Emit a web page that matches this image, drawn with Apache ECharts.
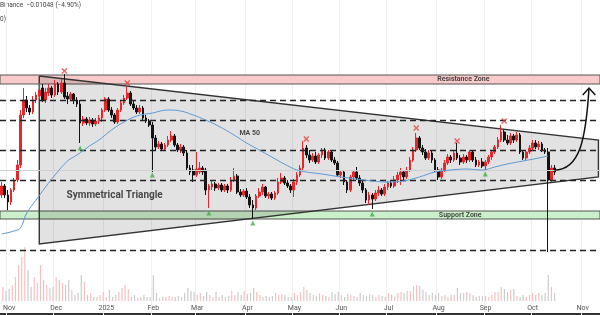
<!DOCTYPE html>
<html><head><meta charset="utf-8">
<script src="https://cdn.jsdelivr.net/npm/echarts@6/dist/echarts.min.js"></script>
<style>html,body{margin:0;padding:0;background:#fff}#c{width:600px;height:315px}</style>
</head><body><div id="c"></div>
<script>
// ---- data ----
const opens = [0.205,0.214,0.205,0.198,0.210,0.220,0.235,0.285,0.300,0.292,
0.288,0.300,0.304,0.312,0.300,0.307,0.312,0.305,0.316,0.308,
0.317,0.304,0.301,0.306,0.300,0.296,0.277,0.281,0.277,0.280,
0.276,0.279,0.282,0.290,0.301,0.290,0.285,0.278,0.290,0.297,
0.302,0.307,0.296,0.292,0.288,0.292,0.282,0.279,0.275,0.262,
0.253,0.256,0.251,0.255,0.260,0.264,0.255,0.250,0.253,0.247,
0.232,0.230,0.225,0.228,0.232,0.230,0.210,0.213,0.216,0.212,
0.215,0.210,0.214,0.210,0.220,0.224,0.208,0.205,0.209,0.203,
0.195,0.192,0.204,0.208,0.213,0.204,0.206,0.202,0.207,0.218,
0.222,0.217,0.214,0.210,0.218,0.225,0.232,0.252,0.245,0.240,
0.244,0.238,0.245,0.250,0.242,0.248,0.240,0.237,0.225,0.228,
0.218,0.210,0.223,0.228,0.222,0.217,0.210,0.200,0.205,0.201,
0.207,0.210,0.206,0.213,0.217,0.214,0.220,0.225,0.228,0.223,
0.230,0.240,0.250,0.262,0.252,0.248,0.242,0.247,0.240,0.230,
0.223,0.230,0.237,0.243,0.240,0.247,0.242,0.238,0.243,0.240,
0.248,0.240,0.235,0.238,0.234,0.238,0.243,0.248,0.253,0.260,
0.268,0.260,0.257,0.264,0.260,0.265,0.248,0.242,0.248,0.252,
0.257,0.253,0.256,0.250,0.248,0.220,0.232];
const closes = [0.214,0.205,0.198,0.210,0.220,0.235,0.285,0.300,0.292,0.288,
0.300,0.305,0.310,0.300,0.308,0.312,0.305,0.316,0.308,0.317,
0.303,0.301,0.306,0.300,0.296,0.277,0.281,0.277,0.280,0.276,
0.279,0.282,0.290,0.301,0.290,0.285,0.278,0.290,0.297,0.302,
0.307,0.296,0.292,0.288,0.292,0.282,0.279,0.275,0.262,0.253,
0.256,0.251,0.255,0.260,0.264,0.255,0.250,0.253,0.247,0.232,
0.228,0.225,0.231,0.232,0.228,0.210,0.214,0.216,0.212,0.215,
0.210,0.214,0.210,0.220,0.224,0.208,0.205,0.209,0.203,0.195,
0.192,0.204,0.208,0.213,0.204,0.206,0.202,0.207,0.218,0.222,
0.217,0.214,0.210,0.218,0.225,0.232,0.252,0.245,0.240,0.244,
0.238,0.245,0.250,0.242,0.248,0.240,0.237,0.225,0.228,0.218,
0.210,0.223,0.228,0.222,0.217,0.210,0.200,0.205,0.201,0.207,
0.210,0.206,0.213,0.217,0.214,0.220,0.225,0.228,0.223,0.230,
0.240,0.250,0.262,0.252,0.248,0.242,0.247,0.240,0.230,0.223,
0.230,0.237,0.243,0.240,0.247,0.242,0.238,0.243,0.240,0.248,
0.240,0.235,0.238,0.234,0.238,0.243,0.248,0.253,0.260,0.268,
0.260,0.257,0.264,0.260,0.265,0.248,0.242,0.248,0.252,0.257,
0.253,0.256,0.250,0.248,0.220,0.232,0.228];
const lows = [0.202,0.202,0.190,0.195,0.208,0.218,0.232,0.282,0.288,0.285,
0.286,0.297,0.301,0.298,0.297,0.304,0.302,0.303,0.305,0.306,
0.301,0.296,0.300,0.296,0.293,0.257,0.274,0.275,0.274,0.273,
0.274,0.276,0.278,0.288,0.288,0.282,0.276,0.276,0.288,0.295,
0.300,0.294,0.290,0.286,0.286,0.280,0.277,0.273,0.228,0.250,
0.251,0.249,0.249,0.253,0.258,0.253,0.248,0.247,0.244,0.230,
0.225,0.218,0.223,0.226,0.225,0.205,0.192,0.210,0.209,0.210,
0.208,0.208,0.207,0.208,0.218,0.206,0.203,0.203,0.201,0.192,
0.181,0.190,0.202,0.205,0.202,0.201,0.200,0.200,0.205,0.216,
0.215,0.212,0.207,0.203,0.215,0.223,0.230,0.242,0.237,0.238,
0.236,0.236,0.242,0.240,0.240,0.238,0.235,0.223,0.222,0.215,
0.207,0.208,0.220,0.220,0.214,0.207,0.197,0.195,0.191,0.199,
0.204,0.204,0.204,0.210,0.212,0.212,0.217,0.215,0.220,0.221,
0.228,0.238,0.248,0.250,0.245,0.240,0.240,0.237,0.228,0.220,
0.221,0.228,0.235,0.237,0.238,0.240,0.235,0.236,0.237,0.238,
0.238,0.233,0.233,0.232,0.230,0.236,0.240,0.246,0.251,0.258,
0.258,0.255,0.255,0.257,0.258,0.246,0.240,0.239,0.246,0.250,
0.251,0.250,0.248,0.246,0.148,0.218,0.225];
const highs = [0.218,0.216,0.210,0.212,0.222,0.240,0.290,0.312,0.304,0.295,
0.304,0.308,0.317,0.316,0.312,0.316,0.314,0.320,0.318,0.321,
0.326,0.308,0.308,0.307,0.303,0.300,0.284,0.283,0.283,0.282,
0.282,0.285,0.292,0.303,0.303,0.293,0.287,0.292,0.300,0.305,
0.313,0.309,0.299,0.295,0.295,0.294,0.285,0.281,0.278,0.265,
0.259,0.258,0.257,0.264,0.269,0.266,0.257,0.256,0.255,0.250,
0.235,0.235,0.248,0.238,0.234,0.232,0.216,0.219,0.218,0.217,
0.217,0.216,0.216,0.223,0.232,0.226,0.211,0.211,0.212,0.206,
0.200,0.206,0.212,0.216,0.214,0.208,0.208,0.209,0.222,0.227,
0.224,0.220,0.216,0.221,0.228,0.235,0.259,0.255,0.250,0.247,
0.248,0.247,0.252,0.252,0.250,0.250,0.243,0.239,0.230,0.230,
0.220,0.225,0.230,0.233,0.225,0.220,0.212,0.208,0.207,0.210,
0.214,0.212,0.216,0.219,0.220,0.224,0.228,0.232,0.230,0.233,
0.243,0.253,0.267,0.264,0.255,0.251,0.250,0.249,0.242,0.233,
0.232,0.240,0.246,0.245,0.250,0.257,0.245,0.246,0.245,0.250,
0.250,0.243,0.240,0.242,0.240,0.245,0.250,0.255,0.263,0.275,
0.270,0.265,0.267,0.266,0.268,0.267,0.250,0.250,0.255,0.260,
0.260,0.259,0.258,0.252,0.252,0.235,0.235];
const volumes = [14,10,12,16,24,36,44,54,31,14,24,18,36,21,16,13,14,24,21,18,
16,21,11,6,8,26,19,6,8,4,4,6,9,4,11,4,6,9,13,16,12,4,6,3,4,6,4,4,26,8,
3,4,4,5,4,4,5,4,8,13,10,9,6,8,
5,9,6,4,9,4,6,4,5,10,6,9,6,10,7,8,13,9,6,4,5,4,5,8,6,7,6,4,4,8,
6,9,14,11,8,6,5,8,6,5,4,9,7,9,6,4,7,6,5,4,8,6,5,7,6,4,6,5,4,8,6,4,8,
9,8,10,10,15,16,15,11,9,6,8,6,8,5,6,4,6,6,13,8,8,9,8,6,4,5,5,5,4,6,
9,9,14,12,9,11,12,5,4,6,4,6,8,6,8,6,8,26,14,8];
// MA 50: [candle index, value]
const maPoints = [[0,0.166],[4,0.169],[6,0.172],[8,0.187],[11,0.200],[14,0.213],[17,0.225],
[21,0.239],[24,0.245],[28,0.254],[31,0.260],[35,0.270],[39,0.278],[43,0.284],[48,0.287],
[53,0.290],[57,0.289],[61,0.285],[65,0.280],[69,0.274],[74,0.265],[78,0.257],[82,0.250],
[86,0.243],[90,0.236],[94,0.230],[97,0.228],[102,0.226],[108,0.223],[113,0.221],[118,0.219],
[123,0.218],[128,0.219],[133,0.223],[138,0.228],[143,0.230],[148,0.231],[153,0.230],
[157,0.233],[161,0.236],[166,0.239],[171,0.242],[174,0.244]];
const levelLines = [0.296,0.276,0.252,0.222,0.150];
const gridLevel = 0.230;
const resistanceZone = [0.316,0.325];
const supportZone = [0.181,0.189];
const triangle = [[12,0.324],[190,0.260],[190,0.223],[12,0.156]];
const swingHighs = [[20,0.329],[40,0.317],[97,0.261],[132,0.272],[145,0.259],[160,0.279]];
const swingLows = [[25,0.252],[48,0.225],[66,0.187],[80,0.177],[118,0.186],[154,0.226]];
const arrowCurve = [[176,0.230],[184,0.230],[186,0.260],[187,0.312]];
const arrowHead = [[185,0.305],[187,0.312],[189,0.305]];
const textLabels = [
  {name:'Resistance Zone', at:[147,0.3205], size:7},
  {name:'Support Zone', at:[146,0.185], size:7},
  {name:'MA 50', at:[79,0.267], size:7},
  {name:'Symmetrical Triangle', at:[36,0.205], size:10}
];
const monthNames = ['Jan','Feb','Mar','Apr','May','Jun','Jul','Aug','Sep','Oct','Nov','Dec'];
const categories = [];
(function(){ const s = Date.UTC(2024,9,28); for (let i=0;i<191;i++){ categories.push(new Date(s+i*2*86400000).toISOString().slice(0,10)); } })();

// ---- build ----
const candleData = opens.map((o,i)=>[o, closes[i], lows[i], highs[i]]);
const volData = volumes.map((v,i)=>({value:v, itemStyle:{color: closes[i]>=opens[i] ? '#f6c0c1' : '#cbcbcb'}}));
function isMonthStart(i){ return i>0 && categories[i].slice(5,7)!==categories[i-1].slice(5,7); }
function fmtMonth(v){ const m = +v.slice(5,7); return m===1 ? v.slice(0,4) : monthNames[m-1]; }

const chart = echarts.init(document.getElementById('c'));
chart.setOption({
  animation:false,
  backgroundColor:'#ffffff',
  grid:[{left:0,right:0,top:0,bottom:0},{left:0,right:0,top:215,bottom:14}],
  xAxis:[
    {type:'category', data:categories, gridIndex:0, axisLine:{show:false}, axisTick:{show:false}, axisLabel:{show:false},
     splitLine:{show:true, interval:(i)=>isMonthStart(i), lineStyle:{color:'#efefef', width:1}}},
    {type:'category', data:categories, gridIndex:1, axisLine:{show:false}, axisTick:{show:false},
     axisLabel:{show:true, interval:(i)=>isMonthStart(i), formatter:fmtMonth, fontSize:7, color:'#555', margin:4, fontFamily:'Roboto'},
     splitLine:{show:false}}
  ],
  yAxis:[
    {type:'value', gridIndex:0, min:0.085, max:0.400, show:false},
    {type:'value', gridIndex:1, min:0, max:86, show:false}
  ],
  graphic:[
    {type:'text', left:0, top:2, style:{text:'Binance  \u22120.01048 (\u22124.90%)', font:'6.5px Roboto', fill:'#444'}},
    {type:'text', left:0, top:16, style:{text:'0)', font:'6.5px Roboto', fill:'#444'}},
    {type:'rect', left:0, top:313, shape:{width:600, height:2}, style:{fill:'#333'}}
  ],
  series:[
    {type:'bar', xAxisIndex:1, yAxisIndex:1, data:volData, barWidth:1.2, silent:true, z:1},
    {type:'custom', xAxisIndex:0, yAxisIndex:0, z:1, silent:true, data:[[0,0]], encode:{x:0,y:1},
     renderItem:(p,api)=>({type:'polygon', shape:{points:triangle.map(pt=>api.coord(pt))}, style:{fill:'rgba(0,0,0,0.115)'}})},
    {type:'line', xAxisIndex:0, yAxisIndex:0, data:closes, symbol:'none', lineStyle:{opacity:0}, silent:true, z:2,
     markArea:{silent:true, data:[
       [{yAxis:resistanceZone[0], itemStyle:{color:'#f8caca', borderColor:'#555', borderWidth:1}},{yAxis:resistanceZone[1]}],
       [{yAxis:supportZone[0], itemStyle:{color:'#caefca', borderColor:'#555', borderWidth:1}},{yAxis:supportZone[1]}]
     ]},
     markLine:{silent:true, symbol:'none', label:{show:false},
       data:[{yAxis:gridLevel, lineStyle:{color:'#d0d0d0', type:'solid', width:1}}].concat(levelLines.map(v=>({yAxis:v, lineStyle:{color:'#222', type:[6,4], width:1.3}})))}},
    {type:'custom', xAxisIndex:0, yAxisIndex:0, z:3, silent:true, data:[[0,0]], encode:{x:0,y:1},
     renderItem:(p,api)=>{ const pts = triangle.map(pt=>api.coord(pt)); pts.push(pts[0]);
       return {type:'polyline', shape:{points:pts}, style:{stroke:'#333', lineWidth:1.4, fill:null}}; }},
    {type:'candlestick', xAxisIndex:0, yAxisIndex:0, data:candleData, barWidth:2.2, z:4,
     itemStyle:{color:'#e8262b', color0:'#141414', borderColor:'#e8262b', borderColor0:'#141414', borderWidth:1}},
    {type:'line', xAxisIndex:0, yAxisIndex:0, data:maPoints, smooth:0.4, symbol:'none', z:5, silent:true,
     lineStyle:{color:'#5b9bd5', width:1}},
    {type:'scatter', xAxisIndex:0, yAxisIndex:0, data:swingHighs, symbol:'path://M0,0L10,10M10,0L0,10', symbolSize:5, z:6, silent:true,
     itemStyle:{color:'rgba(0,0,0,0)', borderColor:'#e53935', borderWidth:1.3}},
    {type:'scatter', xAxisIndex:0, yAxisIndex:0, data:swingLows, symbol:'triangle', symbolSize:5, z:6, silent:true,
     itemStyle:{color:'#3cb043'}},
    {type:'scatter', xAxisIndex:0, yAxisIndex:0, symbolSize:0, z:7, silent:true,
     data:textLabels.map(t=>({value:t.at, name:t.name, label:{fontSize:t.size}})),
     label:{show:true, position:'inside', formatter:'{b}', color:'#222', fontWeight:'bold', fontFamily:'Roboto'}},
    {type:'custom', xAxisIndex:0, yAxisIndex:0, z:8, silent:true, data:[[0,0]], encode:{x:0,y:1},
     renderItem:(p,api)=>{ const c = arrowCurve.map(pt=>api.coord(pt)); const h = arrowHead.map(pt=>api.coord(pt));
       return {type:'group', children:[
         {type:'bezierCurve', shape:{x1:c[0][0],y1:c[0][1],cpx1:c[1][0],cpy1:c[1][1],cpx2:c[2][0],cpy2:c[2][1],x2:c[3][0],y2:c[3][1]}, style:{stroke:'#111', lineWidth:1.5, fill:null}},
         {type:'polyline', shape:{points:h}, style:{stroke:'#111', lineWidth:1.5, fill:null}}
       ]}; }}
  ]
});
</script></body></html>
